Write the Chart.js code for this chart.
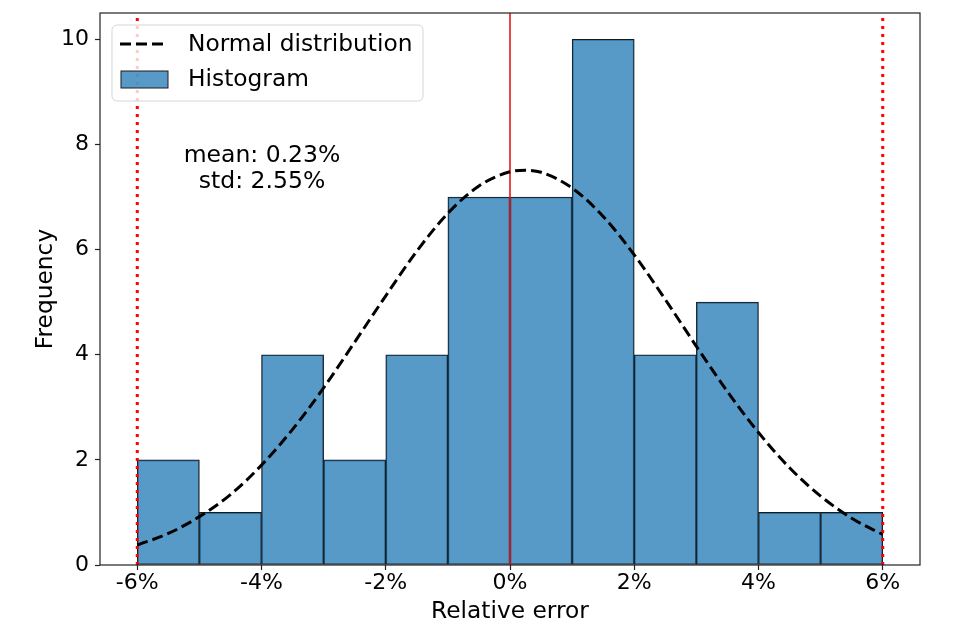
<!DOCTYPE html>
<html>
<head>
<meta charset="utf-8">
<script src="https://cdn.jsdelivr.net/npm/chart.js@4.4.1/dist/chart.umd.min.js"></script>
<style>
  body { margin: 0; background: #fff; }
  #wrap { width: 960px; height: 628px; }
</style>
</head>
<body>
<div id="wrap"><canvas id="chart" width="960" height="628"></canvas></div>
<script>
// histogram bins (centres, width 1) and counts
const binCenters = [-5.5, -4.5, -3.5, -2.5, -1.5, -0.5, 0.5, 1.5, 2.5, 3.5, 4.5, 5.5];
const binCounts = [2, 1, 4, 2, 4, 7, 7, 10, 4, 5, 1, 1];

// normal curve
const curveX = [-6, -5.5, -5, -4.5, -4, -3.5, -3, -2.5, -2, -1.5, -1, -0.5, 0, 0.25, 0.5, 1, 1.5, 2, 2.5, 3, 3.5, 4, 4.5, 5, 5.5, 6];
const curveY = [0.38, 0.60, 0.92, 1.34, 1.90, 2.58, 3.37, 4.24, 5.12, 5.97, 6.69, 7.21, 7.48, 7.51, 7.47, 7.17, 6.63, 5.90, 5.05, 4.16, 3.30, 2.52, 1.85, 1.31, 0.89, 0.58];

// vertical lines
const meanLine = 0;
const limitLines = [-6, 6];

const xTicks = [-6, -4, -2, 0, 2, 4, 6];
const yTicks = [0, 2, 4, 6, 8, 10];
const statLines = ['mean: 0.23%', 'std: 2.55%'];

const FONT = 'DejaVu Sans';
const yMax = 10.5;

function vline(x, color, width, dash) {
    return {
        type: 'line',
        data: [{ x: x, y: 0 }, { x: x, y: yMax }],
        borderColor: color,
        borderWidth: width,
        borderDash: dash,
        pointRadius: 0,
        order: 2
    };
}

// frame, legend box and stats text, matplotlib style
const decorPlugin = {
    id: 'decor',
    afterDatasetsDraw(chart) {
        const ctx = chart.ctx;
        const a = chart.chartArea;
        ctx.save();

        // frame
        ctx.strokeStyle = '#222';
        ctx.lineWidth = 1.2;
        ctx.strokeRect(a.left, a.top, a.right - a.left, a.bottom - a.top);

        // stats text
        ctx.fillStyle = '#000';
        ctx.font = '23.5px "' + FONT + '"';
        ctx.textAlign = 'center';
        ctx.textBaseline = 'middle';
        ctx.fillText(statLines[0], a.left + 162, a.top + 143);
        ctx.fillText(statLines[1], a.left + 162, a.top + 169);

        // legend
        const lx = a.left + 12, ly = a.top + 12, lw = 311, lh = 76, r = 5;
        ctx.beginPath();
        ctx.moveTo(lx + r, ly);
        ctx.arcTo(lx + lw, ly, lx + lw, ly + lh, r);
        ctx.arcTo(lx + lw, ly + lh, lx, ly + lh, r);
        ctx.arcTo(lx, ly + lh, lx, ly, r);
        ctx.arcTo(lx, ly, lx + lw, ly, r);
        ctx.closePath();
        ctx.fillStyle = 'rgba(255,255,255,0.8)';
        ctx.fill();
        ctx.strokeStyle = 'rgba(204,204,204,0.8)';
        ctx.lineWidth = 1;
        ctx.stroke();

        ctx.strokeStyle = '#000';
        ctx.lineWidth = 3;
        ctx.setLineDash([11, 5]);
        ctx.beginPath();
        ctx.moveTo(lx + 8, ly + 19);
        ctx.lineTo(lx + 56, ly + 19);
        ctx.stroke();
        ctx.setLineDash([]);

        ctx.fillStyle = 'rgba(31,119,180,0.75)';
        ctx.fillRect(lx + 9, ly + 46, 47, 17);
        ctx.strokeStyle = '#1a1a1a';
        ctx.lineWidth = 1;
        ctx.strokeRect(lx + 9, ly + 46, 47, 17);

        ctx.fillStyle = '#000';
        ctx.font = '23.3px "' + FONT + '"';
        ctx.textAlign = 'left';
        ctx.fillText('Normal distribution', lx + 76, ly + 20);
        ctx.fillText('Histogram', lx + 76, ly + 55);

        ctx.restore();
    }
};

const ctx = document.getElementById('chart');

new Chart(ctx, {
    type: 'bar',
    data: {
        datasets: [
            {
                type: 'line',
                data: curveX.map((x, i) => ({ x: x, y: curveY[i] })),
                borderColor: '#000',
                borderWidth: 3,
                borderDash: [11, 5],
                pointRadius: 0,
                cubicInterpolationMode: 'monotone',
                order: 1
            },
            vline(meanLine, '#e8161a', 1.6, []),
            vline(limitLines[0], '#ff0000', 3, [3, 5]),
            vline(limitLines[1], '#ff0000', 3, [3, 5]),
            {
                type: 'bar',
                data: binCenters.map((x, i) => ({ x: x, y: binCounts[i] })),
                backgroundColor: 'rgba(31,119,180,0.75)',
                borderColor: '#1a1a1a',
                borderWidth: 1,
                borderSkipped: false,
                barPercentage: 1,
                categoryPercentage: 1,
                order: 3
            }
        ]
    },
    options: {
        responsive: false,
        animation: false,
        devicePixelRatio: 1,
        layout: { padding: { top: 13, right: 40, left: 0, bottom: 0 } },
        plugins: {
            legend: { display: false },
            tooltip: { enabled: false }
        },
        scales: {
            x: {
                type: 'linear',
                min: -6.6,
                max: 6.6,
                offset: false,
                afterBuildTicks: s => { s.ticks = xTicks.map(v => ({ value: v })); },
                afterFit: s => { s.height = 63; s.paddingLeft = 0; s.paddingRight = 0; },
                grid: {
                    offset: false,
                    drawOnChartArea: false,
                    drawTicks: true,
                    tickLength: 5,
                    tickColor: '#222',
                    tickWidth: 1.2
                },
                border: { display: false },
                ticks: {
                    color: '#000',
                    padding: 0,
                    maxRotation: 0,
                    font: { family: FONT, size: 22 },
                    callback: v => v + '%'
                },
                title: {
                    display: true,
                    text: 'Relative error',
                    color: '#000',
                    font: { family: FONT, size: 23.3 },
                    padding: { top: 0, bottom: 2 }
                }
            },
            y: {
                min: 0,
                max: yMax,
                afterBuildTicks: s => { s.ticks = yTicks.map(v => ({ value: v })); },
                afterFit: s => { s.width = 100; s.paddingTop = 0; s.paddingBottom = 0; },
                grid: {
                    drawOnChartArea: false,
                    drawTicks: true,
                    tickLength: 5,
                    tickColor: '#222',
                    tickWidth: 1.2
                },
                border: { display: false },
                ticks: {
                    color: '#000',
                    padding: 6,
                    font: { family: FONT, size: 22 }
                },
                title: {
                    display: true,
                    text: 'Frequency',
                    color: '#000',
                    font: { family: FONT, size: 23.3 },
                    padding: { top: 32, bottom: 0 }
                }
            }
        }
    },
    plugins: [decorPlugin]
});
</script>
</body>
</html>
